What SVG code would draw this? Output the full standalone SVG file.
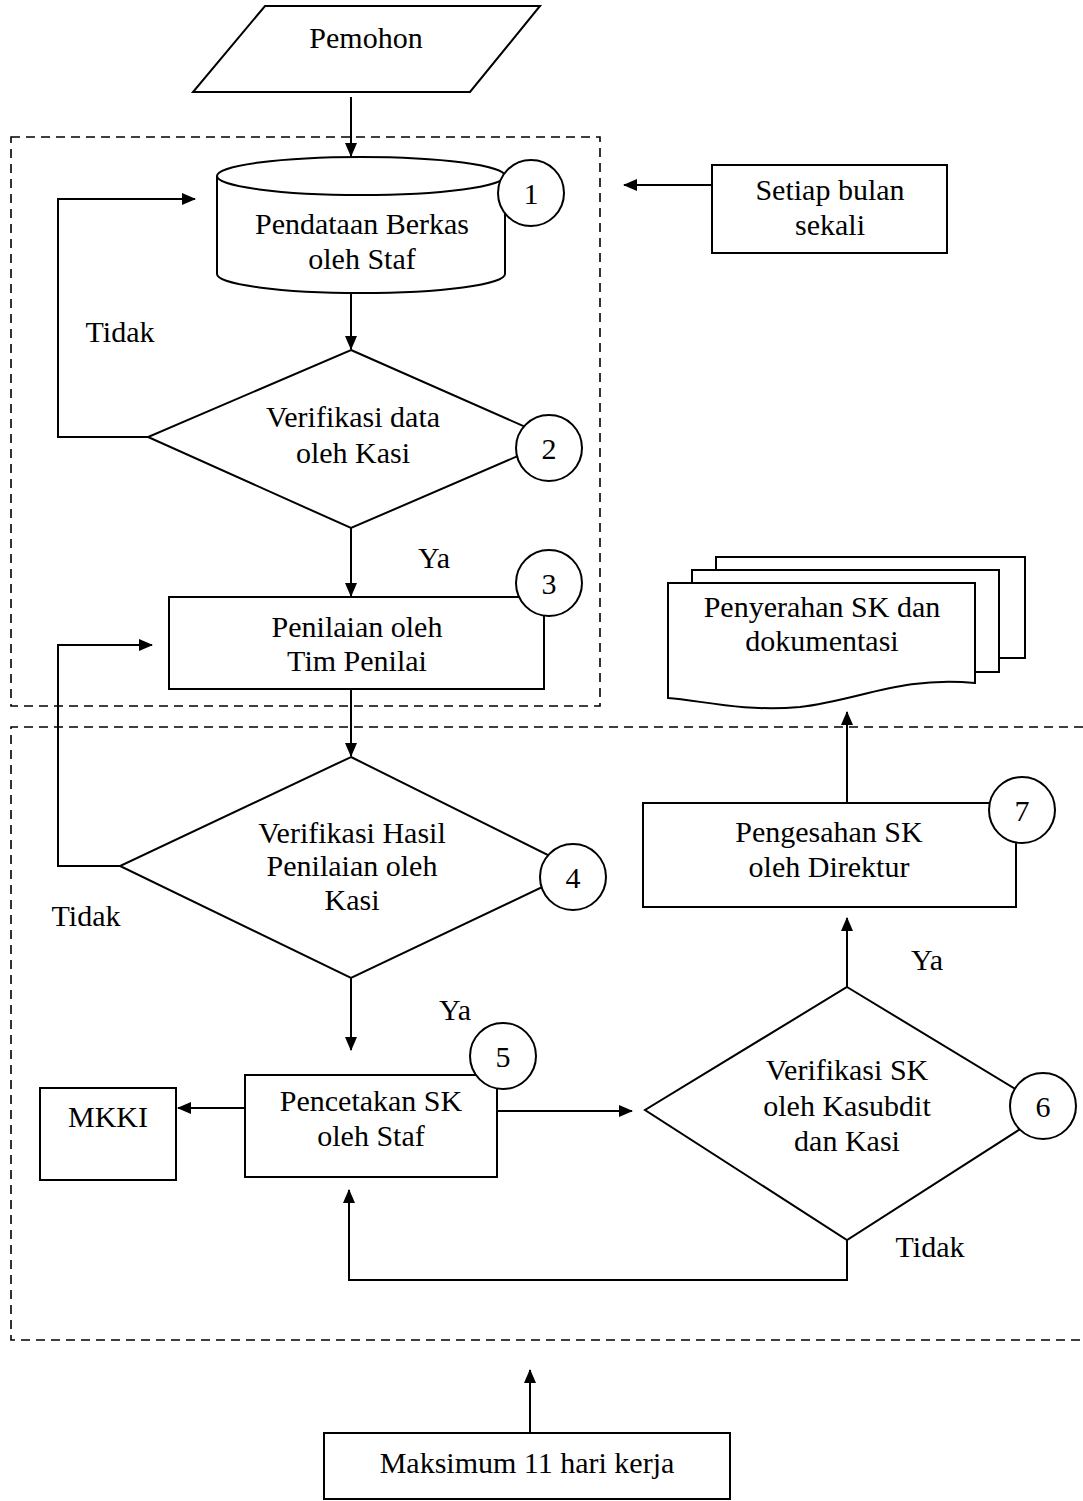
<svg xmlns="http://www.w3.org/2000/svg" width="1083" height="1501" viewBox="0 0 1083 1501">
<style>
.s{fill:#fff;stroke:#000;stroke-width:2}
.c{fill:none;stroke:#000;stroke-width:2}
.d{fill:none;stroke:#000;stroke-width:1.6;stroke-dasharray:9 6}
text{font-family:"Liberation Serif","Times New Roman",serif;font-size:30px;fill:#000;text-anchor:middle}
</style>
<defs>
<marker id="a" markerWidth="14" markerHeight="12" refX="13" refY="6" orient="auto" markerUnits="userSpaceOnUse">
<path d="M0,0 L14,6 L0,12 Z" fill="#000"/>
</marker>
</defs>
<rect width="1083" height="1501" fill="#fff"/>
<g id="groups">
<path class="d" d="M11,137 H600 V706 H11 Z"/>
<path class="d" d="M1083,727 H11 V1340 H1083"/>
</g>
<g id="connectors">
<path class="c" d="M351,97 V156" marker-end="url(#a)"/>
<path class="c" d="M351,293 V349" marker-end="url(#a)"/>
<path class="c" d="M148,437 H58 V199 H195" marker-end="url(#a)"/>
<path class="c" d="M351,528 V596" marker-end="url(#a)"/>
<path class="c" d="M351,689 V756" marker-end="url(#a)"/>
<path class="c" d="M120,866 H58 V645 H152" marker-end="url(#a)"/>
<path class="c" d="M351,978 V1050" marker-end="url(#a)"/>
<path class="c" d="M245,1108 H178" marker-end="url(#a)"/>
<path class="c" d="M497,1111 H632" marker-end="url(#a)"/>
<path class="c" d="M847,1240 V1280 H349 V1190" marker-end="url(#a)"/>
<path class="c" d="M847,987 V918" marker-end="url(#a)"/>
<path class="c" d="M847,803 V712" marker-end="url(#a)"/>
<path class="c" d="M712,185 H624" marker-end="url(#a)"/>
<path class="c" d="M530,1433 V1370" marker-end="url(#a)"/>
</g>
<g id="pemohon">
<path class="s" d="M265,6 H540 L470,92 H193 Z"/>
<text x="366" y="48">Pemohon</text>
</g>
<g id="n1">
<path class="s" d="M217,176 V274 A144,19 0 0 0 505,274 V176 A144,19 0 0 0 217,176 Z"/>
<path class="c" d="M217,176 A144,19 0 0 0 505,176"/>
<text x="362" y="234">Pendataan Berkas</text>
<text x="362" y="269">oleh Staf</text>
<circle class="s" cx="531" cy="193" r="33"/>
<text x="531" y="204">1</text>
</g>
<g id="n2">
<path class="s" d="M351,350 L555,440 L351,528 L148,437 Z"/>
<text x="353" y="427">Verifikasi data</text>
<text x="353" y="463">oleh Kasi</text>
<circle class="s" cx="549" cy="448" r="33"/>
<text x="549" y="459">2</text>
</g>
<text x="120" y="342">Tidak</text>
<text x="434" y="568">Ya</text>
<g id="n3">
<rect class="s" x="169" y="597" width="375" height="92"/>
<text x="357" y="637">Penilaian oleh</text>
<text x="357" y="671">Tim Penilai</text>
<circle class="s" cx="549" cy="583" r="33"/>
<text x="549" y="594">3</text>
</g>
<g id="n4">
<path class="s" d="M351,757 L578,870 L351,978 L120,866 Z"/>
<text x="352" y="843">Verifikasi Hasil</text>
<text x="352" y="876">Penilaian oleh</text>
<text x="352" y="910">Kasi</text>
<circle class="s" cx="573" cy="877" r="33"/>
<text x="573" y="888">4</text>
</g>
<text x="86" y="926">Tidak</text>
<text x="455" y="1020">Ya</text>
<g id="n5">
<rect class="s" x="245" y="1075" width="252" height="102"/>
<text x="371" y="1111">Pencetakan SK</text>
<text x="371" y="1146">oleh Staf</text>
<circle class="s" cx="503" cy="1056" r="33"/>
<text x="503" y="1067">5</text>
</g>
<g id="mkki">
<rect class="s" x="40" y="1088" width="136" height="92"/>
<text x="108" y="1127">MKKI</text>
</g>
<g id="n6">
<path class="s" d="M847,987 L1050,1110 L847,1240 L645,1110 Z"/>
<text x="847" y="1080">Verifikasi SK</text>
<text x="847" y="1116">oleh Kasubdit</text>
<text x="847" y="1151">dan Kasi</text>
<circle class="s" cx="1043" cy="1106" r="33"/>
<text x="1043" y="1117">6</text>
</g>
<text x="930" y="1257">Tidak</text>
<text x="927" y="970">Ya</text>
<g id="n7">
<rect class="s" x="643" y="803" width="373" height="104"/>
<text x="829" y="842">Pengesahan SK</text>
<text x="829" y="877">oleh Direktur</text>
<circle class="s" cx="1022" cy="810" r="33"/>
<text x="1022" y="821">7</text>
</g>
<g id="doc">
<rect class="s" x="716" y="557" width="309" height="101"/>
<rect class="s" x="692" y="570" width="307" height="102"/>
<path class="s" d="M668,583 H975 V683 C900,676 860,700 800,707 C740,712 700,700 668,698 Z"/>
<text x="822" y="617">Penyerahan SK dan</text>
<text x="822" y="651">dokumentasi</text>
</g>
<g id="setiap">
<rect class="s" x="712" y="165" width="235" height="88"/>
<text x="830" y="200">Setiap bulan</text>
<text x="830" y="235">sekali</text>
</g>
<g id="maks">
<rect class="s" x="324" y="1433" width="406" height="66"/>
<text x="527" y="1473">Maksimum 11 hari kerja</text>
</g>
</svg>
